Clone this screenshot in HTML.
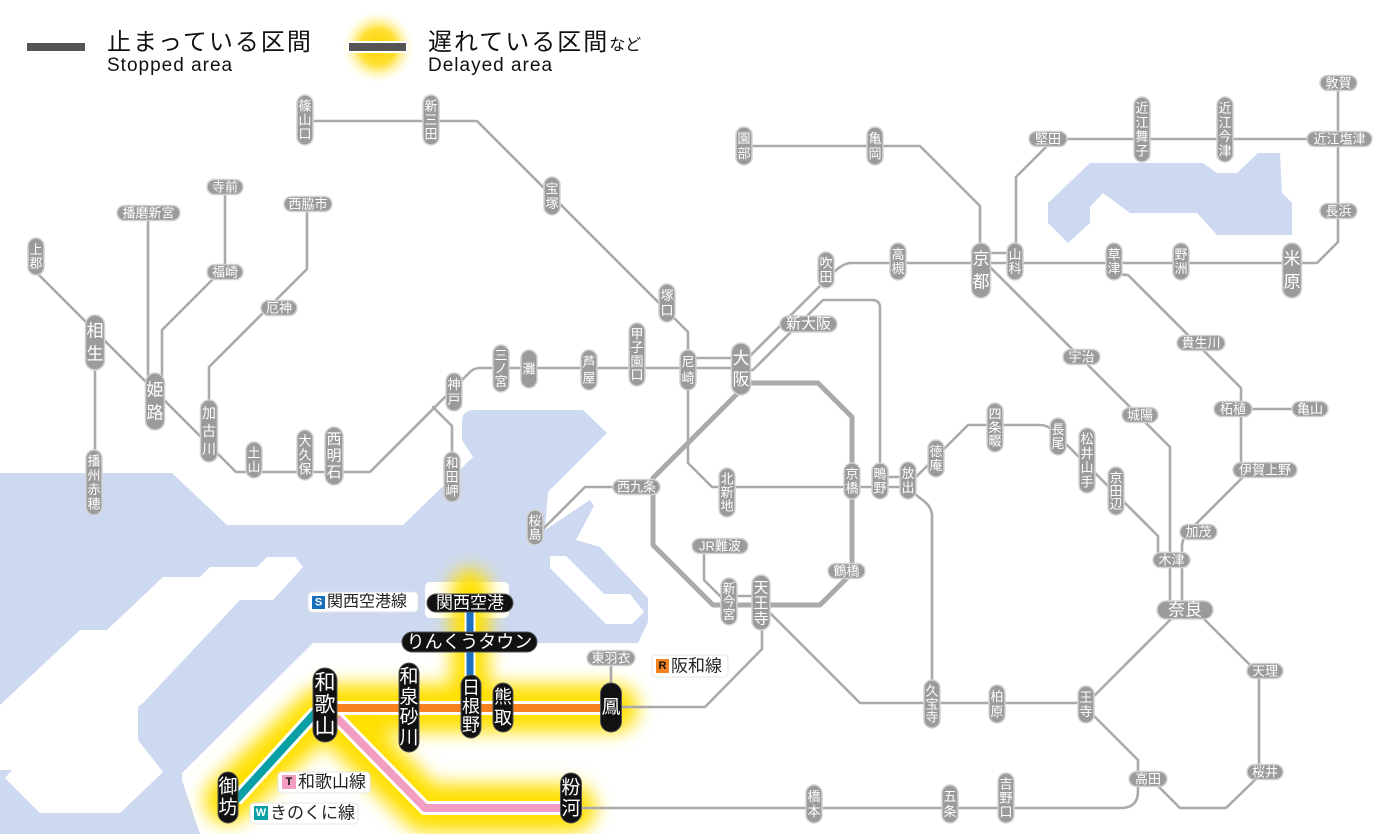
<!DOCTYPE html>
<html><head><meta charset="utf-8">
<style>
html,body{margin:0;padding:0;background:#fff;}
body{width:1400px;height:834px;overflow:hidden;}
svg{display:block;}
.ln{fill:none;stroke:#aaa;stroke-width:2.6;stroke-linejoin:round;stroke-linecap:round}
.p{fill:#9b9b9b;stroke:#d2d2d2;stroke-width:1.5}
.bp{fill:#111;stroke:#555;stroke-width:1}
text{font-family:"Liberation Sans","Noto Sans CJK JP",sans-serif;}
.t{fill:#fff;font-size:13px;text-anchor:middle;dominant-baseline:central}
.m{fill:#fff;font-size:15px;text-anchor:middle;dominant-baseline:central}
.g{fill:#fff;font-size:17px;text-anchor:middle;dominant-baseline:central}
.b{fill:#fff;font-size:19px;text-anchor:middle;dominant-baseline:central}
.lab{fill:#222;font-size:16px;dominant-baseline:central}
.sq{font-size:11px;font-weight:bold;text-anchor:middle;dominant-baseline:central}
</style></head>
<body>
<svg width="1400" height="834" viewBox="0 0 1400 834" xmlns="http://www.w3.org/2000/svg">
<defs>
<filter id="gl" x="-50%" y="-50%" width="200%" height="200%"><feGaussianBlur stdDeviation="9"/></filter>
<radialGradient id="rg"><stop offset="0" stop-color="#ffd200"/><stop offset="0.5" stop-color="#ffe033"/><stop offset="1" stop-color="#fff8c0" stop-opacity="0"/></radialGradient>
</defs>

<!-- water -->
<path fill="#cdd9f1" d="M0,473 H172 L227,525 H403 L473,457 L462,440 V422 Q462,410 474,410 H583 L607,433 L548,492 L545,530 L590,500 L594,506 L576,540 L600,547 L648,598 V622 L638,643 H313 L182,773 V780 L200,834 H0 Z"/>
<!-- Awaji island -->
<path fill="#fff" d="M0,705 L80,630 H107 L163,577 H200 L210,567 H257 L267,557 H295 L303,567 L273,600 H240 L143,703 L138,707 V740 L163,772 L120,813 H40 L5,778 L12,770 H0 Z"/>
<!-- harbor piers -->
<path fill="#fff" d="M550,556 H566 L604,594 H630 L644,612 L632,624 H606 L550,568 Z"/>
<!-- Lake Biwa -->
<path fill="#cdd9f1" d="M1048,203 L1090,163 H1203 L1217,173 H1237 L1258,153 H1280 L1282,193 L1292,203 V235 H1217 L1197,213 H1130 L1103,193 L1090,207 V223 L1068,243 L1048,223 Z"/>
<!-- airport island -->
<rect x="425" y="582" width="84" height="36" rx="5" fill="#fff"/>

<!-- yellow glow -->
<g filter="url(#gl)" fill="none" stroke="#ffe000" stroke-linecap="round" stroke-linejoin="round">
<path stroke-width="48" d="M330,708 H614"/>
<path stroke-width="48" d="M332,716 L425,808 H572"/>
<path stroke-width="48" d="M320,712 L228,800"/>
<path stroke-width="38" d="M470,588 V690"/>
</g>

<!-- gray lines -->
<g class="ln">
<path d="M305,121 H477 L667,311 L688,332 V463 L712,487 H908"/>
<path d="M36,256 V272 L236,472 H370 L470,372 Q474,368 480,368 H741"/>
<path d="M688,358 H741"/>
<path d="M433,407 L452,426 V480"/>
<path d="M95,340 V480"/>
<path d="M148,213 V395"/>
<path d="M162,395 V330 L220,272"/>
<path d="M225,187 V272"/>
<path d="M209,430 V367 L307,269 V204"/>
<path d="M741,365 L833,273 Q842,264 850,263 H1317 L1338,242 V83"/>
<path d="M741,370 H753 L823,300 H872 Q880,300 880,308 V487"/>
<path d="M880,477 H908"/>
<path d="M744,146 H920 L980,206 V270"/>
<path d="M990,253 H1010"/>
<path d="M1016,250 V177 L1050,143"/>
<path d="M1048,139 H1339"/>
<path d="M981,258 L1170,447 V610"/>
<path d="M1114,268 Q1116,275 1128,275 L1241,388 V470"/>
<path d="M1233,409 H1310"/>
<path d="M1250,470 L1190,530 Q1182,538 1182,546 V605"/>
<path d="M905,488 L968,425 H1040 Q1047,425 1052,430 L1158,536 V560"/>
<path d="M910,490 L925,502 Q932,508 932,516 V704"/>
<path d="M613,487 H585 L540,532"/>
<path d="M766,609 L860,703 H1086"/>
<path d="M1092,698 L1175,615"/>
<path d="M1198,613 L1259,674 V776 L1226,808 H1180 L1157,785"/>
<path d="M1090,712 L1138,760 V791 Q1138,808 1121,808 H582"/>
<path d="M622,707 H705 L762,649 V625"/>
<path d="M611,665 V684"/>
<path d="M704,553 V580 L722,598"/>
<path d="M722,596 H761"/>
<path stroke-width="5" d="M745,383 H818 L852,417 V573 L820,605 H713 L653,545 V478 L741,390"/>
</g>

<!-- colored lines -->
<g fill="none" stroke-linejoin="round">
<path stroke="#fff" stroke-width="14" d="M337,708 H601"/>
<path stroke="#f5821f" stroke-width="8" d="M337,708 H601"/>
<path stroke="#fff" stroke-width="14" d="M337,718 L425,808 H561"/>
<path stroke="#f19ec2" stroke-width="8" d="M337,718 L425,808 H561"/>
<path stroke="#fff" stroke-width="14" d="M316,712 L236,800"/>
<path stroke="#0aa0a5" stroke-width="8" d="M316,712 L236,800"/>
<path stroke="#fff" stroke-width="11" d="M470,611 V676"/>
<path stroke="#1d6fbf" stroke-width="7" d="M470,611 V676"/>
</g>

<!-- small vertical pills -->
<rect class="p" x="297" y="95" width="16" height="50" rx="8"/><text class="t" x="305" y="106">篠</text><text class="t" x="305" y="120">山</text><text class="t" x="305" y="134">口</text>
<rect class="p" x="423" y="95" width="16" height="50" rx="8"/><text class="t" x="431" y="106">新</text><text class="t" x="431" y="120">三</text><text class="t" x="431" y="134">田</text>
<rect class="p" x="544" y="177" width="16" height="38" rx="8"/><text class="t" x="552" y="188.5">宝</text><text class="t" x="552" y="203.5">塚</text>
<rect class="p" x="659" y="284" width="16" height="38" rx="8"/><text class="t" x="667" y="295.5">塚</text><text class="t" x="667" y="310.5">口</text>
<rect class="p" x="629" y="323" width="16" height="63" rx="8"/><text class="t" x="637" y="334">甲</text><text class="t" x="637" y="347.5">子</text><text class="t" x="637" y="361.5">園</text><text class="t" x="637" y="375">口</text>
<rect class="p" x="581" y="350" width="16" height="40" rx="8"/><text class="t" x="589" y="362">芦</text><text class="t" x="589" y="378">屋</text>
<rect class="p" x="521" y="350" width="16" height="38" rx="8"/><text class="t" x="529" y="369">灘</text>
<rect class="p" x="493" y="345" width="16" height="47" rx="8"/><text class="t" x="501" y="355.5">三</text><text class="t" x="501" y="368.5">ノ</text><text class="t" x="501" y="381.5">宮</text>
<rect class="p" x="446" y="373" width="16" height="38" rx="8"/><text class="t" x="454" y="384.5">神</text><text class="t" x="454" y="399.5">戸</text>
<rect class="p" x="680" y="350" width="16" height="40" rx="8"/><text class="t" x="688" y="362">尼</text><text class="t" x="688" y="378">崎</text>
<rect class="p" x="444" y="452" width="16" height="50" rx="8"/><text class="t" x="452" y="463">和</text><text class="t" x="452" y="477">田</text><text class="t" x="452" y="491">岬</text>
<rect class="p" x="325" y="427" width="18" height="58" rx="9"/><text class="m" x="334" y="439.5">西</text><text class="m" x="334" y="456">明</text><text class="m" x="334" y="472.5">石</text>
<rect class="p" x="297" y="430" width="16" height="50" rx="8"/><text class="t" x="305" y="441">大</text><text class="t" x="305" y="455">久</text><text class="t" x="305" y="469">保</text>
<rect class="p" x="246" y="442" width="16" height="36" rx="8"/><text class="t" x="254" y="453">土</text><text class="t" x="254" y="467">山</text>
<rect class="p" x="200.5" y="400" width="17" height="62" rx="8.5"/><text class="t" x="209" y="413" style="font-size:14px">加</text><text class="t" x="209" y="431" style="font-size:14px">古</text><text class="t" x="209" y="449" style="font-size:14px">川</text>
<rect class="p" x="28" y="238" width="16" height="37" rx="8"/><text class="t" x="36" y="249.5">上</text><text class="t" x="36" y="263.5">郡</text>
<rect class="p" x="86" y="450" width="16" height="65" rx="8"/><text class="t" x="94" y="461">播</text><text class="t" x="94" y="475.5">州</text><text class="t" x="94" y="489.5">赤</text><text class="t" x="94" y="504">穂</text>
<rect class="p" x="736" y="127" width="16" height="38" rx="8"/><text class="t" x="744" y="138.5">園</text><text class="t" x="744" y="153.5">部</text>
<rect class="p" x="867" y="127" width="16" height="38" rx="8"/><text class="t" x="875" y="138.5">亀</text><text class="t" x="875" y="153.5">岡</text>
<rect class="p" x="818" y="252" width="16" height="36" rx="8"/><text class="t" x="826" y="263">吹</text><text class="t" x="826" y="277">田</text>
<rect class="p" x="890" y="243" width="16" height="37" rx="8"/><text class="t" x="898" y="254.5">高</text><text class="t" x="898" y="268.5">槻</text>
<rect class="p" x="1007" y="243" width="16" height="37" rx="8"/><text class="t" x="1015" y="254.5">山</text><text class="t" x="1015" y="268.5">科</text>
<rect class="p" x="1106" y="243" width="16" height="37" rx="8"/><text class="t" x="1114" y="254.5">草</text><text class="t" x="1114" y="268.5">津</text>
<rect class="p" x="1173" y="243" width="16" height="37" rx="8"/><text class="t" x="1181" y="254.5">野</text><text class="t" x="1181" y="268.5">洲</text>
<rect class="p" x="1134" y="97" width="16" height="65" rx="8"/><text class="t" x="1142" y="108">近</text><text class="t" x="1142" y="122.5">江</text><text class="t" x="1142" y="136.5">舞</text><text class="t" x="1142" y="151">子</text>
<rect class="p" x="1217" y="97" width="16" height="65" rx="8"/><text class="t" x="1225" y="108">近</text><text class="t" x="1225" y="122.5">江</text><text class="t" x="1225" y="136.5">今</text><text class="t" x="1225" y="151">津</text>
<rect class="p" x="527" y="510" width="16" height="35" rx="8"/><text class="t" x="535" y="521">桜</text><text class="t" x="535" y="534.5">島</text>
<rect class="p" x="719" y="468" width="16" height="49" rx="8"/><text class="t" x="727" y="479">北</text><text class="t" x="727" y="492.5">新</text><text class="t" x="727" y="506">地</text>
<rect class="p" x="844" y="463" width="16" height="36" rx="8"/><text class="t" x="852" y="474">京</text><text class="t" x="852" y="488">橋</text>
<rect class="p" x="872" y="463" width="16" height="36" rx="8"/><text class="t" x="880" y="474">鴫</text><text class="t" x="880" y="488">野</text>
<rect class="p" x="900" y="462" width="16" height="37" rx="8"/><text class="t" x="908" y="473.5">放</text><text class="t" x="908" y="487.5">出</text>
<rect class="p" x="928" y="440" width="16" height="37" rx="8"/><text class="t" x="936" y="451.5">徳</text><text class="t" x="936" y="465.5">庵</text>
<rect class="p" x="987" y="403" width="16" height="49" rx="8"/><text class="t" x="995" y="414">四</text><text class="t" x="995" y="427.5">条</text><text class="t" x="995" y="441">畷</text>
<rect class="p" x="1050" y="418" width="16" height="37" rx="8"/><text class="t" x="1058" y="429.5">長</text><text class="t" x="1058" y="443.5">尾</text>
<rect class="p" x="1079" y="428" width="16" height="65" rx="8"/><text class="t" x="1087" y="439">松</text><text class="t" x="1087" y="453.5">井</text><text class="t" x="1087" y="467.5">山</text><text class="t" x="1087" y="482">手</text>
<rect class="p" x="1108" y="467" width="16" height="48" rx="8"/><text class="t" x="1116" y="478">京</text><text class="t" x="1116" y="491">田</text><text class="t" x="1116" y="504">辺</text>
<rect class="p" x="721" y="578" width="16" height="47" rx="8"/><text class="t" x="729" y="588.5">新</text><text class="t" x="729" y="601.5">今</text><text class="t" x="729" y="614.5">宮</text>
<rect class="p" x="924" y="680" width="16" height="48" rx="8"/><text class="t" x="932" y="691">久</text><text class="t" x="932" y="704">宝</text><text class="t" x="932" y="717">寺</text>
<rect class="p" x="989" y="685" width="16" height="38" rx="8"/><text class="t" x="997" y="696.5">柏</text><text class="t" x="997" y="711.5">原</text>
<rect class="p" x="1078" y="686" width="16" height="37" rx="8"/><text class="t" x="1086" y="697.5">王</text><text class="t" x="1086" y="711.5">寺</text>
<rect class="p" x="806" y="785" width="16" height="38" rx="8"/><text class="t" x="814" y="796.5">橋</text><text class="t" x="814" y="811.5">本</text>
<rect class="p" x="942" y="785" width="16" height="38" rx="8"/><text class="t" x="950" y="796.5">五</text><text class="t" x="950" y="811.5">条</text>
<rect class="p" x="998" y="773" width="16" height="50" rx="8"/><text class="t" x="1006" y="784">吉</text><text class="t" x="1006" y="798">野</text><text class="t" x="1006" y="812">口</text>

<!-- big vertical pills -->
<rect class="p" x="85.5" y="315" width="19" height="55" rx="9.5"/><text class="g" x="95" y="331">相</text><text class="g" x="95" y="354">生</text>
<rect class="p" x="145.5" y="373" width="19" height="57" rx="9.5"/><text class="g" x="155" y="390">姫</text><text class="g" x="155" y="413">路</text>
<rect class="p" x="731.5" y="343" width="19" height="52" rx="9.5"/><text class="g" x="741" y="358.5">大</text><text class="g" x="741" y="379.5">阪</text>
<rect class="p" x="971.5" y="243" width="19" height="55" rx="9.5"/><text class="g" x="981" y="259">京</text><text class="g" x="981" y="282">都</text>
<rect class="p" x="1282.5" y="243" width="19" height="55" rx="9.5"/><text class="g" x="1292" y="259">米</text><text class="g" x="1292" y="282">原</text>
<rect class="p" x="752" y="575" width="18" height="55" rx="9"/><text class="m" x="761" y="588">天</text><text class="m" x="761" y="603.5">王</text><text class="m" x="761" y="619">寺</text>

<!-- horizontal pills -->
<rect class="p" x="117" y="205.5" width="63" height="15" rx="7.5"/><text class="t" x="148.5" y="213">播磨新宮</text>
<rect class="p" x="207" y="179.5" width="36" height="15" rx="7.5"/><text class="t" x="225" y="187">寺前</text>
<rect class="p" x="207" y="264.5" width="36" height="15" rx="7.5"/><text class="t" x="225" y="272">福崎</text>
<rect class="p" x="284" y="196.5" width="48" height="15" rx="7.5"/><text class="t" x="308" y="204">西脇市</text>
<rect class="p" x="261" y="300.5" width="36" height="15" rx="7.5"/><text class="t" x="279" y="308">厄神</text>
<rect class="p" x="613" y="479.5" width="47" height="15" rx="7.5"/><text class="t" x="636.5" y="487">西九条</text>
<rect class="p" x="692" y="538.5" width="56" height="15" rx="7.5"/><text class="t" x="720" y="546">JR難波</text>
<rect class="p" x="828" y="563.5" width="37" height="15" rx="7.5"/><text class="t" x="846.5" y="571">鶴橋</text>
<rect class="p" x="587" y="650.5" width="48" height="15" rx="7.5"/><text class="t" x="611" y="658">東羽衣</text>
<rect class="p" x="1063" y="349.5" width="37" height="15" rx="7.5"/><text class="t" x="1081.5" y="357">宇治</text>
<rect class="p" x="1122" y="407.5" width="36" height="15" rx="7.5"/><text class="t" x="1140" y="415">城陽</text>
<rect class="p" x="1177" y="335.5" width="48" height="15" rx="7.5"/><text class="t" x="1201" y="343">貴生川</text>
<rect class="p" x="1214" y="401.5" width="38" height="15" rx="7.5"/><text class="t" x="1233" y="409">柘植</text>
<rect class="p" x="1292" y="401.5" width="36" height="15" rx="7.5"/><text class="t" x="1310" y="409">亀山</text>
<rect class="p" x="1233" y="462.5" width="64" height="15" rx="7.5"/><text class="t" x="1265" y="470">伊賀上野</text>
<rect class="p" x="1180" y="524.5" width="37" height="15" rx="7.5"/><text class="t" x="1198.5" y="532">加茂</text>
<rect class="p" x="1153" y="552.5" width="37" height="15" rx="7.5"/><text class="t" x="1171.5" y="560">木津</text>
<rect class="p" x="1247" y="663.5" width="36" height="15" rx="7.5"/><text class="t" x="1265" y="671">天理</text>
<rect class="p" x="1247" y="764.5" width="36" height="15" rx="7.5"/><text class="t" x="1265" y="772">桜井</text>
<rect class="p" x="1129" y="771.5" width="38" height="15" rx="7.5"/><text class="t" x="1148" y="779">高田</text>
<rect class="p" x="1029" y="131.5" width="38" height="15" rx="7.5"/><text class="t" x="1048" y="139">堅田</text>
<rect class="p" x="1307" y="131.5" width="65" height="15" rx="7.5"/><text class="t" x="1339.5" y="139">近江塩津</text>
<rect class="p" x="1320" y="75.5" width="37" height="15" rx="7.5"/><text class="t" x="1338.5" y="83">敦賀</text>
<rect class="p" x="1320" y="203.5" width="37" height="15" rx="7.5"/><text class="t" x="1338.5" y="211">長浜</text>
<rect class="p" x="780" y="316" width="57" height="16" rx="8"/><text class="m" x="808.5" y="324">新大阪</text>
<rect class="p" x="1157" y="601" width="56" height="18" rx="9"/><text class="g" x="1185" y="610">奈良</text>

<!-- black pills -->
<rect class="bp" x="427" y="594" width="86" height="18" rx="9"/><text class="g" x="470" y="603">関西空港</text>
<rect class="bp" x="402" y="632" width="135" height="20" rx="10"/><text class="b" x="469.5" y="642" style="font-size:18px">りんくうタウン</text>
<rect class="bp" x="313" y="668" width="24" height="74" rx="12"/><text class="b" x="325" y="683" style="font-size:21px">和</text><text class="b" x="325" y="705" style="font-size:21px">歌</text><text class="b" x="325" y="727" style="font-size:21px">山</text>
<rect class="bp" x="399" y="663" width="20" height="89" rx="10"/><text class="b" x="409" y="677">和</text><text class="b" x="409" y="697.5">泉</text><text class="b" x="409" y="717.5">砂</text><text class="b" x="409" y="738">川</text>
<rect class="bp" x="461" y="675" width="20" height="63" rx="10"/><text class="b" x="471" y="688" style="font-size:18px">日</text><text class="b" x="471" y="706.5" style="font-size:18px">根</text><text class="b" x="471" y="725" style="font-size:18px">野</text>
<rect class="bp" x="493" y="683" width="20" height="49" rx="10"/><text class="b" x="503" y="697" style="font-size:18px">熊</text><text class="b" x="503" y="718" style="font-size:18px">取</text>
<rect class="bp" x="600.5" y="683" width="21" height="49" rx="10.5"/><text class="b" x="611" y="707.5">鳳</text>
<rect class="bp" x="218" y="772" width="20" height="51" rx="10"/><text class="b" x="228" y="787">御</text><text class="b" x="228" y="808">坊</text>
<rect class="bp" x="560.5" y="773" width="21" height="50" rx="10.5"/><text class="b" x="571" y="788">粉</text><text class="b" x="571" y="809">河</text>

<!-- line labels -->
<rect x="308" y="592" width="110" height="20" rx="4" fill="#fff" stroke="#e4e4e4"/>
<rect x="312" y="596" width="13" height="13" fill="#1a6fba"/><text class="sq" x="318.5" y="602.5" fill="#fff">S</text>
<text class="lab" x="327" y="602">関西空港線</text>
<rect x="652" y="655" width="76" height="22" rx="4" fill="#fff" stroke="#e4e4e4"/>
<rect x="656" y="659" width="13" height="14" fill="#f5821f"/><text class="sq" x="662.5" y="666" fill="#111">R</text>
<text class="lab" x="671" y="666" style="font-size:17px">阪和線</text>
<rect x="278" y="772" width="92" height="21" rx="4" fill="#fff" stroke="#e4e4e4"/>
<rect x="282" y="775" width="14" height="14" fill="#f19ec2"/><text class="sq" x="289" y="782" fill="#111">T</text>
<text class="lab" x="298" y="782" style="font-size:17px">和歌山線</text>
<rect x="250" y="803" width="108" height="21" rx="4" fill="#fff" stroke="#e4e4e4"/>
<rect x="254" y="806" width="14" height="14" fill="#0aa0a5"/><text class="sq" x="261" y="813" fill="#fff">W</text>
<text class="lab" x="270" y="813" style="font-size:17px">きのくに線</text>

<!-- legend -->
<rect x="27" y="43" width="58" height="8" fill="#555"/>
<text x="107" y="50" style="font-size:24px;letter-spacing:2px" fill="#111">止まっている区間</text>
<text x="107" y="71" style="font-size:19px;letter-spacing:1px" fill="#111">Stopped area</text>
<circle cx="378" cy="47" r="36" fill="url(#rg)"/>
<rect x="347" y="41" width="61" height="12" fill="#fff"/>
<rect x="349" y="43" width="57" height="8" fill="#555"/>
<text x="428" y="50" fill="#111"><tspan style="font-size:24px;letter-spacing:2px">遅れている区間</tspan><tspan style="font-size:16px">など</tspan></text>
<text x="428" y="71" style="font-size:19px;letter-spacing:1px" fill="#111">Delayed area</text>
</svg>
</body></html>
